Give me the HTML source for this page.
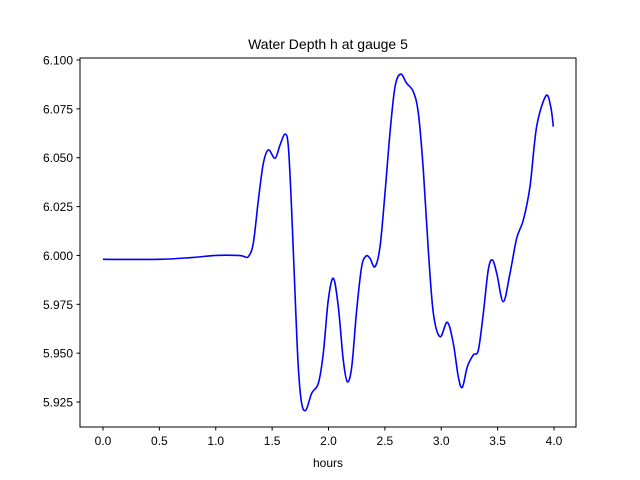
<!DOCTYPE html>
<html><head><meta charset="utf-8"><style>
body{margin:0;background:#fff}
svg{display:block;font-family:"Liberation Sans","DejaVu Sans",sans-serif}
</style></head><body>
<svg width="640" height="480" xmlns="http://www.w3.org/2000/svg">
<rect width="640" height="480" fill="#fff"/>
<text x="328" y="49" text-anchor="middle" font-size="14">Water Depth h at gauge 5</text>
<g id="xt"></g>
<g id="yt"></g>
<text x="328" y="467" text-anchor="middle" font-size="12">hours</text>
<path id="line" fill="none" stroke="#0000ff" stroke-width="1.6"/>
<rect x="80" y="58" width="496" height="369" fill="none" stroke="#000" stroke-width="1"/>
</svg>
<script>
const hours=[0,0.5,0.8,1.0,1.2,1.25,1.289,1.333,1.378,1.422,1.467,1.526,1.570,1.615,1.644,1.673,1.703,1.732,1.762,1.800,1.851,1.910,1.954,1.998,2.043,2.087,2.131,2.167,2.206,2.250,2.294,2.333,2.368,2.412,2.457,2.501,2.545,2.590,2.640,2.693,2.752,2.797,2.841,2.885,2.930,2.989,3.054,3.107,3.151,3.187,3.231,3.284,3.329,3.373,3.417,3.453,3.492,3.550,3.610,3.669,3.728,3.787,3.846,3.929,3.971,3.994];
const depth=[5.998,5.998,5.999,6.0,6.0,5.9995,5.9994,6.0062,6.0284,6.0471,6.054,6.0497,6.0565,6.0621,6.0556,6.0233,5.9806,5.943,5.9243,5.9209,5.9295,5.9346,5.95,5.9772,5.9883,5.9738,5.9465,5.9354,5.943,5.9721,5.9942,5.9997,5.9985,5.9942,6.0045,6.0318,6.0625,6.0863,6.0928,6.0881,6.0838,6.0727,6.0437,6.0028,5.9704,5.9584,5.9658,5.955,5.938,5.9325,5.943,5.9491,5.9516,5.9704,5.9926,5.9977,5.9909,5.9763,5.9909,6.0088,6.0181,6.0352,6.0659,6.0817,6.0761,6.0659];
const xTicks=[0,0.5,1,1.5,2,2.5,3,3.5,4];
const xTickLabels=["0.0","0.5","1.0","1.5","2.0","2.5","3.0","3.5","4.0"];
const yTicks=[5.925,5.95,5.975,6.0,6.025,6.05,6.075,6.1];
const yTickLabels=["5.925","5.950","5.975","6.000","6.025","6.050","6.075","6.100"];
const X=t=>103+t*112.75;
const Y=v=>60+(6.1-v)/0.025*48.86;
const NS="http://www.w3.org/2000/svg";
const xt=document.getElementById('xt'),yt=document.getElementById('yt');
xTicks.forEach((t,i)=>{
 const l=document.createElementNS(NS,'line');
 l.setAttribute('x1',X(t));l.setAttribute('x2',X(t));l.setAttribute('y1',427);l.setAttribute('y2',430.5);l.setAttribute('stroke','#000');
 
 
 xt.appendChild(l);
 const s=document.createElementNS(NS,'text');
 s.setAttribute('x',X(t));s.setAttribute('y',445);s.setAttribute('text-anchor','middle');s.setAttribute('font-size','12');
 s.textContent=xTickLabels[i];
 
 
 xt.appendChild(s);
});
yTicks.forEach((v,i)=>{
 const l=document.createElementNS(NS,'line');
 l.setAttribute('x1',76.5);l.setAttribute('x2',80);l.setAttribute('y1',Y(v));l.setAttribute('y2',Y(v));l.setAttribute('stroke','#000');
 
 
 yt.appendChild(l);
 const s=document.createElementNS(NS,'text');
 s.setAttribute('x',73);s.setAttribute('y',Y(v)+4.5);s.setAttribute('text-anchor','end');s.setAttribute('font-size','12');
 s.textContent=yTickLabels[i];
 
 
 yt.appendChild(s);
});
const P=hours.map((t,i)=>[X(t),Y(depth[i])]);
let d='M'+P[0][0]+','+P[0][1];
for(let i=0;i<P.length-1;i++){
 const p0=P[Math.max(0,i-1)],p1=P[i],p2=P[i+1],p3=P[Math.min(P.length-1,i+2)];
 const c1=[p1[0]+(p2[0]-p0[0])/6,p1[1]+(p2[1]-p0[1])/6];
 const c2=[p2[0]-(p3[0]-p1[0])/6,p2[1]-(p3[1]-p1[1])/6];
 d+=` C${c1[0]},${c1[1]} ${c2[0]},${c2[1]} ${p2[0]},${p2[1]}`;
}
document.getElementById('line').setAttribute('d',d);
</script>
</body></html>
